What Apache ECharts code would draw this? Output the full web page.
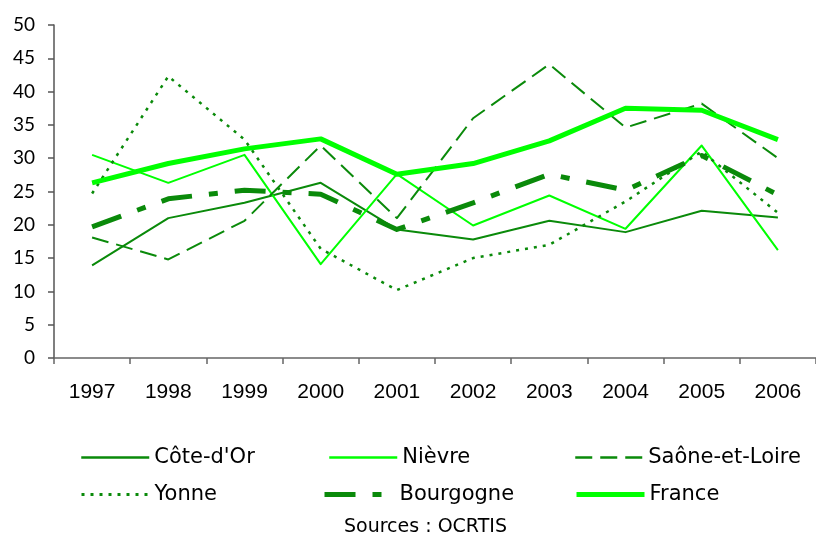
<!DOCTYPE html>
<html>
<head>
<meta charset="utf-8">
<title>Bourgogne</title>
<script src="https://cdn.jsdelivr.net/npm/echarts@6/dist/echarts.min.js"></script>
<style>
  html, body { margin: 0; padding: 0; background: #fff; }
  #chart { width: 816px; height: 539px; }
</style>
</head>
<body>
<div id="chart"></div>
<script>
// Years on the category axis
const years = ['1997', '1998', '1999', '2000', '2001', '2002', '2003', '2004', '2005', '2006'];
const yTicks = [0, 50, 5]; // min, max, step

// Series values per year
const coteDOr      = [13.9, 21.0, 23.3, 26.3, 19.3, 17.8, 20.6, 18.9, 22.1, 21.1];
const nievre       = [30.5, 26.3, 30.5, 14.1, 27.6, 19.9, 24.4, 19.4, 31.9, 16.2];
const saoneEtLoire = [18.1, 14.8, 20.6, 31.9, 21.0, 36.0, 44.1, 34.6, 38.2, 30.0];
const yonne        = [24.7, 42.3, 32.8, 16.4, 10.2, 15.0, 17.0, 23.5, 31.0, 21.8];
const bourgogne    = [19.7, 23.9, 25.2, 24.6, 19.3, 23.3, 27.6, 25.2, 30.4, 24.5];
const france       = [26.3, 29.2, 31.4, 32.9, 27.6, 29.2, 32.6, 37.5, 37.2, 32.8];

const DARK = '#0a8a0a';
const LIME = '#00ff00';

const seriesDefs = [
  { name: "Côte-d'Or",      data: coteDOr,      color: DARK, width: 2,   type: 'solid',          legendW: 2.5, iconW: 68, pos: [80, 447] },
  { name: 'Nièvre',         data: nievre,       color: LIME, width: 2,   type: 'solid',          legendW: 2.5, iconW: 68, pos: [328, 447] },
  { name: 'Saône-et-Loire', data: saoneEtLoire, color: DARK, width: 2,   type: [17, 8],          legendW: 2.5, iconW: 68, pos: [574, 447] },
  { name: 'Yonne',          data: yonne,        color: DARK, width: 2.5, type: [3, 6],           legendW: 3,   iconW: 68, pos: [80, 484] },
  { name: 'Bourgogne',      data: bourgogne,    color: DARK, width: 5,   type: [31, 17, 9, 17],  legendW: 5,   iconW: 70, pos: [322, 484] },
  { name: 'France',         data: france,       color: LIME, width: 5,   type: 'solid',          legendW: 5,   iconW: 68, pos: [574, 484] }
];

const AXIS_FONT = '"Liberation Sans", Arial, sans-serif';
const VALUE_FONT = 'Lato, "Open Sans", sans-serif';
const LEGEND_FONT = '"DejaVu Sans", Verdana, sans-serif';
const NOTE_FONT = '"DejaVu Sans", Verdana, sans-serif';

function draw() {
  const chart = echarts.init(document.getElementById('chart'), null, { renderer: 'canvas' });

  const legends = seriesDefs.map(s => ({
    data: [s.name],
    left: s.pos[0],
    top: s.pos[1],
    padding: 0,
    itemWidth: s.iconW,
    itemHeight: 14,
    selectedMode: false,
    itemStyle: { color: 'rgba(0,0,0,0)', borderWidth: 0, opacity: 0 },
    lineStyle: { width: s.legendW, type: s.type, color: s.color, opacity: 1 },
    textStyle: { color: '#000', fontFamily: LEGEND_FONT, fontSize: 21 }
  }));

  const option = {
    animation: false,
    backgroundColor: '#fff',
    grid: { left: 54, top: 25, width: 767, height: 333 },
    legend: legends,
    xAxis: {
      type: 'category',
      data: years,
      boundaryGap: true,
      axisLine: { lineStyle: { color: '#666', width: 1.5 } },
      axisTick: { show: true, length: 6, alignWithLabel: false, lineStyle: { color: '#666', width: 1.5 } },
      axisLabel: { color: '#000', fontFamily: AXIS_FONT, fontSize: 21, margin: 24 }
    },
    yAxis: {
      type: 'value',
      min: yTicks[0],
      max: yTicks[1],
      interval: yTicks[2],
      axisLine: { show: true, lineStyle: { color: '#555', width: 1.5 } },
      axisTick: { show: true, length: 6, lineStyle: { color: '#555', width: 1.5 } },
      splitLine: { show: false },
      axisLabel: { color: '#000', fontFamily: VALUE_FONT, fontSize: 19, margin: 19 }
    },
    graphic: [{
      type: 'text',
      left: 344,
      top: 518,
      style: { text: 'Sources : OCRTIS', fill: '#000', fontFamily: NOTE_FONT, fontSize: 19 }
    }],
    series: seriesDefs.map(s => ({
      name: s.name,
      type: 'line',
      data: s.data,
      symbol: 'none',
      color: s.color,
      lineStyle: { color: s.color, width: s.width, type: s.type, cap: 'butt', join: 'round' },
      emphasis: { disabled: true }
    }))
  };

  chart.setOption(option);
}

// Make sure the named system fonts are ready before the canvas measures text
const fontLoads = ['21px "Liberation Sans"', '19px Lato', '21px "DejaVu Sans"']
  .map(f => document.fonts.load(f).catch(() => null));
Promise.all(fontLoads).then(draw, draw);
</script>
</body>
</html>
